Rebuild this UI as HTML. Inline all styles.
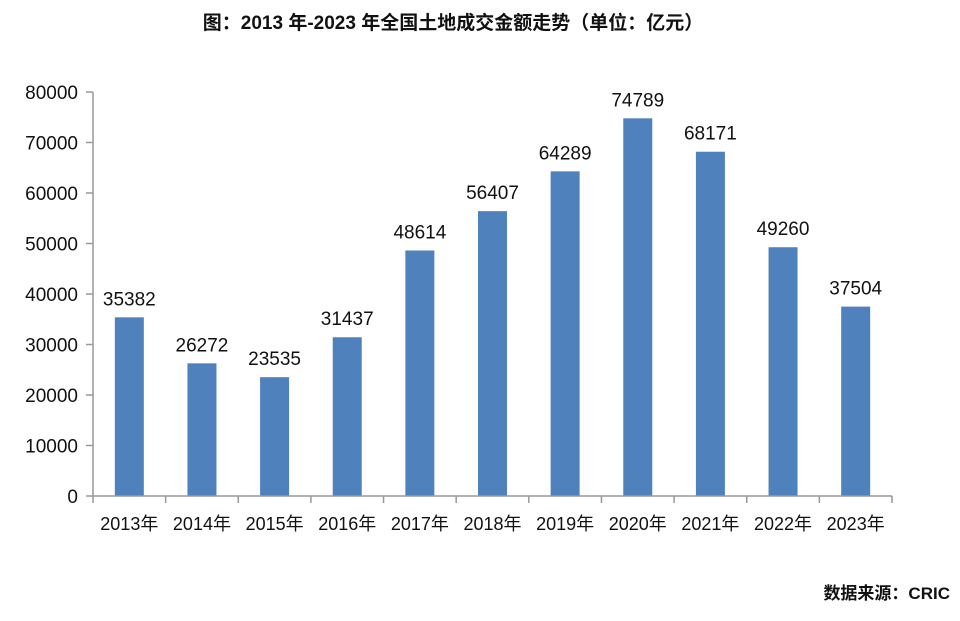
<!DOCTYPE html>
<html><head><meta charset="utf-8"><style>
body{margin:0;background:#fff;width:960px;height:616px;overflow:hidden}
svg text{font-family:"Liberation Sans","Noto Sans CJK SC",sans-serif;fill:#111}
</style></head><body>
<svg id="chart" width="960" height="616" viewBox="0 0 960 616">
<text x="453" y="29" text-anchor="middle" font-size="19" font-weight="bold">图：2013 年-2023 年全国土地成交金额走势（单位：亿元）</text>
<text x="950" y="599" text-anchor="end" font-size="17" font-weight="bold">数据来源：CRIC</text>
<g id="plot"></g>
</svg>
<script>
const categories=["2013年","2014年","2015年","2016年","2017年","2018年","2019年","2020年","2021年","2022年","2023年"];
const values=[35382,26272,23535,31437,48614,56407,64289,74789,68171,49260,37504];
const yTicks=[0,10000,20000,30000,40000,50000,60000,70000,80000];
const X0=93,X1=892,Y0=496,Y1=92,YMAX=80000;
const step=(X1-X0)/categories.length;
const y=v=>Y0-(v/YMAX)*(Y0-Y1);
const x=i=>X0+step*(i+0.5);
const NS="http://www.w3.org/2000/svg";
const g=document.getElementById('plot');
function mk(t,a){const e=document.createElementNS(NS,t);for(const k in a)e.setAttribute(k,a[k]);g.appendChild(e);return e;}
yTicks.forEach(v=>{
 const t=mk('line',{x1:86,x2:X0,y1:y(v),y2:y(v),stroke:'#999','stroke-width':1.5});
 
 
 const l=mk('text',{x:78,y:y(v)+7,'text-anchor':'end','font-size':19});
 l.textContent=v;
 
 
});
values.forEach((v,i)=>{
 const b=mk('rect',{x:x(i)-14.5,y:y(v),width:29,height:Y0-y(v),fill:'#4f81bd'});
 
 
 const l=mk('text',{x:x(i),y:y(v)-12,'text-anchor':'middle','font-size':19});
 l.textContent=v;
 
 
 const c=mk('text',{x:x(i),y:530,'text-anchor':'middle','font-size':18});
 c.textContent=categories[i];
 
 
});
for(let i=0;i<=categories.length;i++){
 const t=mk('line',{x1:X0+step*i,x2:X0+step*i,y1:Y0,y2:Y0+7,stroke:'#999','stroke-width':1.5});
 
 
}
const ya=mk('line',{x1:X0,x2:X0,y1:Y1,y2:Y0,stroke:'#999','stroke-width':1.5});


const xa=mk('line',{x1:X0,x2:X1,y1:Y0,y2:Y0,stroke:'#999','stroke-width':1.5});


</script>
</body></html>
